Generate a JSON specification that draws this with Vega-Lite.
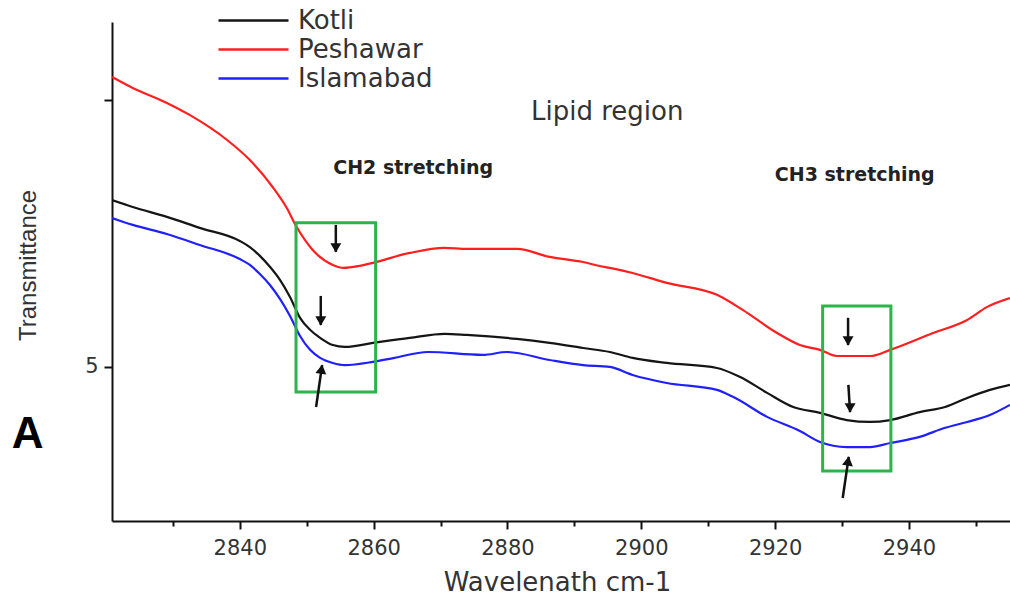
{
  "$schema": "https://vega.github.io/schema/vega-lite/v6.json",
  "width": 898,
  "height": 499,
  "autosize": {"type": "none"},
  "padding": {"left": 112, "top": 22, "right": 0, "bottom": 75},
  "background": "white",
  "config": {"view": {"stroke": null}, "font": "DejaVu Sans"},
  "datasets": {
    "spectra": [
      {"w": 2820.9, "t": 6.086, "s": "Peshawar"},
      {"w": 2824.0, "t": 6.045, "s": "Peshawar"},
      {"w": 2829.1, "t": 5.989, "s": "Peshawar"},
      {"w": 2832.5, "t": 5.944, "s": "Peshawar"},
      {"w": 2838.1, "t": 5.850, "s": "Peshawar"},
      {"w": 2841.5, "t": 5.775, "s": "Peshawar"},
      {"w": 2844.9, "t": 5.674, "s": "Peshawar"},
      {"w": 2847.0, "t": 5.596, "s": "Peshawar"},
      {"w": 2848.5, "t": 5.524, "s": "Peshawar"},
      {"w": 2850.9, "t": 5.438, "s": "Peshawar"},
      {"w": 2853.9, "t": 5.382, "s": "Peshawar"},
      {"w": 2855.5, "t": 5.371, "s": "Peshawar"},
      {"w": 2857.8, "t": 5.378, "s": "Peshawar"},
      {"w": 2859.9, "t": 5.390, "s": "Peshawar"},
      {"w": 2865.4, "t": 5.427, "s": "Peshawar"},
      {"w": 2870.6, "t": 5.446, "s": "Peshawar"},
      {"w": 2873.9, "t": 5.442, "s": "Peshawar"},
      {"w": 2881.4, "t": 5.442, "s": "Peshawar"},
      {"w": 2886.3, "t": 5.412, "s": "Peshawar"},
      {"w": 2891.3, "t": 5.393, "s": "Peshawar"},
      {"w": 2893.8, "t": 5.378, "s": "Peshawar"},
      {"w": 2895.3, "t": 5.371, "s": "Peshawar"},
      {"w": 2898.7, "t": 5.352, "s": "Peshawar"},
      {"w": 2903.8, "t": 5.315, "s": "Peshawar"},
      {"w": 2911.3, "t": 5.270, "s": "Peshawar"},
      {"w": 2915.2, "t": 5.213, "s": "Peshawar"},
      {"w": 2920.3, "t": 5.127, "s": "Peshawar"},
      {"w": 2923.7, "t": 5.082, "s": "Peshawar"},
      {"w": 2926.7, "t": 5.064, "s": "Peshawar"},
      {"w": 2929.2, "t": 5.041, "s": "Peshawar"},
      {"w": 2934.2, "t": 5.041, "s": "Peshawar"},
      {"w": 2937.2, "t": 5.064, "s": "Peshawar"},
      {"w": 2943.6, "t": 5.127, "s": "Peshawar"},
      {"w": 2948.7, "t": 5.176, "s": "Peshawar"},
      {"w": 2951.7, "t": 5.225, "s": "Peshawar"},
      {"w": 2955.1, "t": 5.258, "s": "Peshawar"},

      {"w": 2820.9, "t": 5.625, "s": "Kotli"},
      {"w": 2824.0, "t": 5.599, "s": "Kotli"},
      {"w": 2829.1, "t": 5.562, "s": "Kotli"},
      {"w": 2834.0, "t": 5.521, "s": "Kotli"},
      {"w": 2840.0, "t": 5.472, "s": "Kotli"},
      {"w": 2841.5, "t": 5.449, "s": "Kotli"},
      {"w": 2843.0, "t": 5.416, "s": "Kotli"},
      {"w": 2844.5, "t": 5.375, "s": "Kotli"},
      {"w": 2846.0, "t": 5.326, "s": "Kotli"},
      {"w": 2847.5, "t": 5.262, "s": "Kotli"},
      {"w": 2849.0, "t": 5.184, "s": "Kotli"},
      {"w": 2850.5, "t": 5.139, "s": "Kotli"},
      {"w": 2852.0, "t": 5.109, "s": "Kotli"},
      {"w": 2853.9, "t": 5.082, "s": "Kotli"},
      {"w": 2855.7, "t": 5.075, "s": "Kotli"},
      {"w": 2859.9, "t": 5.090, "s": "Kotli"},
      {"w": 2865.4, "t": 5.109, "s": "Kotli"},
      {"w": 2870.6, "t": 5.124, "s": "Kotli"},
      {"w": 2873.9, "t": 5.120, "s": "Kotli"},
      {"w": 2881.4, "t": 5.105, "s": "Kotli"},
      {"w": 2886.3, "t": 5.090, "s": "Kotli"},
      {"w": 2891.3, "t": 5.071, "s": "Kotli"},
      {"w": 2895.3, "t": 5.056, "s": "Kotli"},
      {"w": 2898.7, "t": 5.034, "s": "Kotli"},
      {"w": 2903.8, "t": 5.015, "s": "Kotli"},
      {"w": 2911.3, "t": 4.996, "s": "Kotli"},
      {"w": 2914.7, "t": 4.963, "s": "Kotli"},
      {"w": 2918.8, "t": 4.903, "s": "Kotli"},
      {"w": 2922.7, "t": 4.850, "s": "Kotli"},
      {"w": 2926.7, "t": 4.828, "s": "Kotli"},
      {"w": 2930.7, "t": 4.801, "s": "Kotli"},
      {"w": 2934.2, "t": 4.794, "s": "Kotli"},
      {"w": 2937.2, "t": 4.801, "s": "Kotli"},
      {"w": 2941.6, "t": 4.831, "s": "Kotli"},
      {"w": 2945.4, "t": 4.850, "s": "Kotli"},
      {"w": 2948.7, "t": 4.884, "s": "Kotli"},
      {"w": 2952.1, "t": 4.914, "s": "Kotli"},
      {"w": 2955.1, "t": 4.933, "s": "Kotli"},

      {"w": 2820.9, "t": 5.558, "s": "Islamabad"},
      {"w": 2824.0, "t": 5.532, "s": "Islamabad"},
      {"w": 2829.1, "t": 5.498, "s": "Islamabad"},
      {"w": 2834.0, "t": 5.457, "s": "Islamabad"},
      {"w": 2840.0, "t": 5.404, "s": "Islamabad"},
      {"w": 2841.5, "t": 5.382, "s": "Islamabad"},
      {"w": 2843.0, "t": 5.348, "s": "Islamabad"},
      {"w": 2844.5, "t": 5.307, "s": "Islamabad"},
      {"w": 2846.0, "t": 5.255, "s": "Islamabad"},
      {"w": 2847.5, "t": 5.191, "s": "Islamabad"},
      {"w": 2849.0, "t": 5.116, "s": "Islamabad"},
      {"w": 2850.5, "t": 5.064, "s": "Islamabad"},
      {"w": 2852.0, "t": 5.034, "s": "Islamabad"},
      {"w": 2853.9, "t": 5.015, "s": "Islamabad"},
      {"w": 2855.7, "t": 5.007, "s": "Islamabad"},
      {"w": 2859.9, "t": 5.019, "s": "Islamabad"},
      {"w": 2863.1, "t": 5.034, "s": "Islamabad"},
      {"w": 2868.1, "t": 5.056, "s": "Islamabad"},
      {"w": 2876.3, "t": 5.045, "s": "Islamabad"},
      {"w": 2879.9, "t": 5.056, "s": "Islamabad"},
      {"w": 2886.3, "t": 5.026, "s": "Islamabad"},
      {"w": 2891.3, "t": 5.007, "s": "Islamabad"},
      {"w": 2895.3, "t": 5.000, "s": "Islamabad"},
      {"w": 2898.7, "t": 4.970, "s": "Islamabad"},
      {"w": 2903.8, "t": 4.940, "s": "Islamabad"},
      {"w": 2911.3, "t": 4.914, "s": "Islamabad"},
      {"w": 2913.7, "t": 4.888, "s": "Islamabad"},
      {"w": 2918.8, "t": 4.813, "s": "Islamabad"},
      {"w": 2923.7, "t": 4.760, "s": "Islamabad"},
      {"w": 2926.7, "t": 4.719, "s": "Islamabad"},
      {"w": 2930.7, "t": 4.700, "s": "Islamabad"},
      {"w": 2934.2, "t": 4.700, "s": "Islamabad"},
      {"w": 2937.2, "t": 4.715, "s": "Islamabad"},
      {"w": 2941.6, "t": 4.738, "s": "Islamabad"},
      {"w": 2945.4, "t": 4.772, "s": "Islamabad"},
      {"w": 2948.7, "t": 4.794, "s": "Islamabad"},
      {"w": 2952.1, "t": 4.820, "s": "Islamabad"},
      {"w": 2955.1, "t": 4.858, "s": "Islamabad"}
    ],
    "boxes": [
      {"x1": 2848.4, "x2": 2860.3, "y1": 4.906, "y2": 5.540},
      {"x1": 2927.1, "x2": 2937.3, "y1": 4.610, "y2": 5.228}
    ],
    "arrows": [
      {"x": 2854.35, "y": 5.532, "x2": 2854.35, "y2": 5.431, "dir": "down"},
      {"x": 2852.1, "y": 5.266, "x2": 2852.1, "y2": 5.157, "dir": "down"},
      {"x": 2851.4, "y": 4.850, "x2": 2852.3, "y2": 5.007, "dir": "up"},
      {"x": 2930.9, "y": 5.184, "x2": 2930.9, "y2": 5.082, "dir": "down"},
      {"x": 2930.95, "y": 4.933, "x2": 2931.2, "y2": 4.831, "dir": "down"},
      {"x": 2930.1, "y": 4.509, "x2": 2931.0, "y2": 4.663, "dir": "up"}
    ],
    "labels": [
      {"x": 2894.9, "y": 5.955, "text": "Lipid region", "kind": "main"},
      {"x": 2865.9, "y": 5.745, "text": "CH2 stretching", "kind": "bold"},
      {"x": 2931.9, "y": 5.719, "text": "CH3 stretching", "kind": "bold"},
      {"x": 2808.3, "y": 4.745, "text": "A", "kind": "panel"}
    ]
  },
  "layer": [
    {
      "data": {"name": "spectra"},
      "mark": {"type": "line", "clip": true, "strokeWidth": 2.2, "strokeJoin": "round", "interpolate": "monotone"},
      "encoding": {
        "x": {
          "field": "w", "type": "quantitative",
          "scale": {"domain": [2820.9, 2955.1], "nice": false, "zero": false},
          "axis": {
            "values": [2830, 2840, 2850, 2860, 2870, 2880, 2890, 2900, 2910, 2920, 2930, 2940, 2950],
            "labelExpr": "datum.value % 20 === 0 ? datum.label : ''",
            "format": "d",
            "labelOverlap": false,
            "grid": false,
            "domainColor": "#111111", "domainWidth": 2,
            "tickColor": "#111111", "tickWidth": 2,
            "tickSize": {"condition": {"test": "datum.value % 20 === 0", "value": 8}, "value": 5},
            "labelFont": "DejaVu Sans", "labelFontSize": 21, "labelColor": "#333333", "labelPadding": 8,
            "title": "Wavelenath cm-1",
            "titleFont": "DejaVu Sans", "titleFontSize": 26, "titleFontWeight": "normal", "titleColor": "#333333",
            "titleX": 445, "titleY": 69, "titleBaseline": "alphabetic", "titleAlign": "center"
          }
        },
        "y": {
          "field": "t", "type": "quantitative",
          "scale": {"domain": [4.423, 6.292], "nice": false, "zero": false},
          "axis": {
            "values": [5, 6],
            "labelExpr": "datum.value === 5 ? '5' : ''",
            "grid": false,
            "domainColor": "#111111", "domainWidth": 2,
            "tickColor": "#111111", "tickWidth": 2, "tickSize": 8,
            "labelFont": "DejaVu Sans", "labelFontSize": 21, "labelColor": "#333333", "labelPadding": 6,
            "title": "Transmittance",
            "titleFont": "Liberation Sans", "titleFontSize": 24, "titleFontWeight": "normal", "titleColor": "#333333",
            "titleAngle": -90, "titleX": -84, "titleY": 243, "titleAlign": "center", "titleBaseline": "middle"
          }
        },
        "color": {
          "field": "s", "type": "nominal",
          "scale": {"domain": ["Kotli", "Peshawar", "Islamabad"], "range": ["#151515", "#ff1f1f", "#1f1fff"]},
          "legend": {
            "orient": "none", "legendX": 105, "legendY": -15, "title": null, "padding": 0,
            "symbolType": "stroke", "symbolSize": 4900, "symbolStrokeWidth": 2.6,
            "clipHeight": 27, "rowPadding": 2, "symbolOffset": 0,
            "labelFont": "DejaVu Sans", "labelFontSize": 26, "labelColor": "#333333", "labelOffset": 8,
            "labelLimit": 300
          }
        }
      }
    },
    {
      "data": {"name": "boxes"},
      "mark": {"type": "rect", "fill": null, "fillOpacity": 0, "stroke": "#2db34a", "strokeWidth": 3},
      "encoding": {
        "x": {"field": "x1", "type": "quantitative"},
        "x2": {"field": "x2"},
        "y": {"field": "y1", "type": "quantitative"},
        "y2": {"field": "y2"}
      }
    },
    {
      "data": {"name": "arrows"},
      "mark": {"type": "rule", "color": "#111111", "strokeWidth": 2.5},
      "encoding": {
        "x": {"field": "x", "type": "quantitative"},
        "y": {"field": "y", "type": "quantitative"},
        "x2": {"field": "x2"},
        "y2": {"field": "y2"}
      }
    },
    {
      "data": {"name": "arrows"},
      "transform": [{"filter": "datum.dir === 'down'"}],
      "mark": {"type": "point", "shape": "triangle-down", "filled": true, "color": "#111111", "size": 120, "opacity": 1, "yOffset": -4},
      "encoding": {
        "x": {"field": "x2", "type": "quantitative"},
        "y": {"field": "y2", "type": "quantitative"}
      }
    },
    {
      "data": {"name": "arrows"},
      "transform": [{"filter": "datum.dir === 'up'"}],
      "mark": {"type": "point", "shape": "triangle-up", "filled": true, "color": "#111111", "size": 120, "opacity": 1, "angle": 8, "yOffset": 4, "xOffset": -0.6},
      "encoding": {
        "x": {"field": "x2", "type": "quantitative"},
        "y": {"field": "y2", "type": "quantitative"}
      }
    },
    {
      "data": {"name": "labels"},
      "transform": [{"filter": "datum.kind === 'main'"}],
      "mark": {"type": "text", "font": "DejaVu Sans", "fontSize": 26, "color": "#333333", "align": "center", "baseline": "middle"},
      "encoding": {
        "x": {"field": "x", "type": "quantitative"},
        "y": {"field": "y", "type": "quantitative"},
        "text": {"field": "text"}
      }
    },
    {
      "data": {"name": "labels"},
      "transform": [{"filter": "datum.kind === 'bold'"}],
      "mark": {"type": "text", "font": "DejaVu Sans", "fontSize": 19, "fontWeight": "bold", "color": "#222222", "align": "center", "baseline": "middle"},
      "encoding": {
        "x": {"field": "x", "type": "quantitative"},
        "y": {"field": "y", "type": "quantitative"},
        "text": {"field": "text"}
      }
    },
    {
      "data": {"name": "labels"},
      "transform": [{"filter": "datum.kind === 'panel'"}],
      "mark": {"type": "text", "font": "Liberation Sans", "fontSize": 44, "fontWeight": "bold", "color": "#000000", "align": "center", "baseline": "middle"},
      "encoding": {
        "x": {"field": "x", "type": "quantitative"},
        "y": {"field": "y", "type": "quantitative"},
        "text": {"field": "text"}
      }
    }
  ]
}
